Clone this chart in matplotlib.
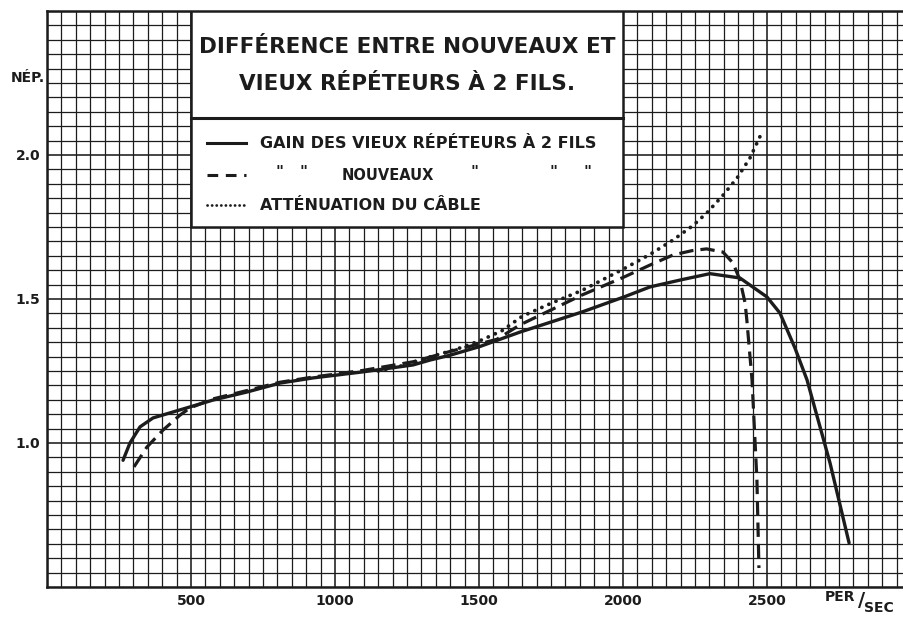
import matplotlib
matplotlib.use('Agg')
from matplotlib import pyplot as plt
from matplotlib.patches import Rectangle
from matplotlib.ticker import MultipleLocator

# gain of the old 2-wire repeaters (solid)
old_freq = [264, 288, 323, 368, 462, 576, 694, 809, 924, 1097, 1271, 1330, 1400, 1503,
            1642, 1750, 1858, 2003, 2094, 2208, 2302, 2406, 2500, 2545, 2597, 2639,
            2719, 2785]
old_gain = [0.94, 1.0, 1.056, 1.087, 1.115, 1.149, 1.177, 1.208, 1.226, 1.247, 1.271,
            1.288, 1.305, 1.335, 1.385, 1.42, 1.455, 1.507, 1.542, 1.568, 1.588, 1.573,
            1.507, 1.451, 1.33, 1.219, 0.93, 0.653]

# gain of the new repeaters (dashed)
new_freq = [302, 347, 403, 462, 497, 576, 694, 809, 924, 1097, 1271, 1400, 1562, 1642,
            1750, 1858, 2003, 2094, 2174, 2240, 2290, 2347, 2382, 2406, 2424, 2430,
            2448, 2465, 2472]
new_gain = [0.917, 0.986, 1.045, 1.097, 1.122, 1.153, 1.182, 1.211, 1.229, 1.252, 1.282,
            1.318, 1.36, 1.41, 1.462, 1.514, 1.576, 1.618, 1.653, 1.668, 1.674, 1.663,
            1.625, 1.566, 1.486, 1.427, 1.219, 0.872, 0.566]

# cable attenuation (dotted)
cable_freq = [1150, 1250, 1330, 1420, 1503, 1580, 1650, 1750, 1858, 2003, 2094, 2174,
              2243, 2292, 2347, 2396, 2441, 2476]
cable_att = [1.25, 1.272, 1.299, 1.325, 1.355, 1.39, 1.44, 1.485, 1.53, 1.605, 1.655,
             1.705, 1.755, 1.8, 1.86, 1.92, 1.99, 2.065]

x_ticks = [500, 1000, 1500, 2000, 2500]
y_ticks = [1.0, 1.5, 2.0]

title_lines = ["DIFFÉRENCE ENTRE NOUVEAUX ET", "VIEUX RÉPÉTEURS À 2 FILS."]
legend_old = "GAIN DES VIEUX RÉPÉTEURS À 2 FILS"
legend_new = "NOUVEAUX"
legend_cable = "ATTÉNUATION DU CÂBLE"

ink = '#1c1c1c'
plt.rcParams['font.family'] = ['DejaVu Sans']

fig = plt.figure(figsize=(9.04, 6.17), dpi=100)
ax = fig.add_axes([47 / 904, 30 / 617, 864 / 904, 576 / 617])
ax.set_xlim(0, 3000)
ax.set_ylim(0.5, 2.5)

# graph paper
ax.xaxis.set_minor_locator(MultipleLocator(50))
ax.yaxis.set_minor_locator(MultipleLocator(0.05))
ax.set_xticks(x_ticks)
ax.set_yticks(y_ticks)
ax.set_xticklabels([str(t) for t in x_ticks], fontweight='bold', fontsize=10, color=ink)
ax.set_yticklabels(['%.1f' % t for t in y_ticks], fontweight='bold', fontsize=10, color=ink)
ax.tick_params(which='both', length=0)
ax.tick_params(axis='x', pad=5)
ax.tick_params(axis='y', pad=5)
ax.grid(which='minor', color=ink, linewidth=0.9)
ax.grid(which='major', color=ink, linewidth=1.15)
ax.set_axisbelow(True)
for side in ['left', 'bottom', 'top']:
    ax.spines[side].set_linewidth(1.8)
    ax.spines[side].set_color(ink)
ax.spines['right'].set_visible(False)

# curves
ax.plot(old_freq, old_gain, color=ink, linewidth=2.4, solid_capstyle='round', zorder=3)
ax.plot(new_freq, new_gain, color=ink, linewidth=2.3, linestyle=(0, (4.5, 2.2)), zorder=3)
ax.plot(cable_freq, cable_att, color=ink, linewidth=2.7, linestyle=(0, (0.05, 2.0)),
        dash_capstyle='round', zorder=3)

# title / legend box
ax.add_patch(Rectangle((500, 1.75), 1500, 0.75, facecolor='white', edgecolor=ink,
                       linewidth=1.8, zorder=4))
ax.plot([500, 2000], [2.13, 2.13], color=ink, linewidth=2.2, zorder=5)
ax.text(1250, 2.375, title_lines[0], ha='center', va='center', fontsize=15.5,
        fontweight='bold', color=ink, zorder=6)
ax.text(1250, 2.245, title_lines[1], ha='center', va='center', fontsize=15.5,
        fontweight='bold', color=ink, zorder=6)

ax.plot([555, 690], [2.04, 2.04], color=ink, linewidth=2.2, zorder=5)
ax.text(740, 2.04, legend_old, ha='left', va='center', fontsize=11.5,
        fontweight='bold', color=ink, zorder=6)
ax.plot([555, 690], [1.93, 1.93], color=ink, linewidth=2.2, linestyle=(0, (3.5, 2.5)), zorder=5)
for qx in [809, 889, 1486, 1757, 1878]:
    ax.text(qx, 1.94, '"', ha='center', va='center', fontsize=11, fontweight='bold',
            color=ink, zorder=6)
ax.text(1184, 1.93, legend_new, ha='center', va='center', fontsize=10.5,
        fontweight='bold', color=ink, zorder=6)
ax.plot([555, 690], [1.825, 1.825], color=ink, linewidth=2.0, linestyle=(0, (0.05, 1.6)),
        dash_capstyle='round', zorder=5)
ax.text(740, 1.825, legend_cable, ha='left', va='center', fontsize=11.5,
        fontweight='bold', color=ink, zorder=6)

# axis labels
fig.text(28 / 904, 1 - 78 / 617, "NÉP.", ha='center', va='center', fontsize=10,
         fontweight='bold', color=ink)
fig.text(840 / 904, 1 - 597 / 617, "PER", ha='center', va='center', fontsize=10,
         fontweight='bold', color=ink)
fig.text(862 / 904, 1 - 601 / 617, "/", ha='center', va='center', fontsize=14,
         fontweight='bold', color=ink)
fig.text(879 / 904, 1 - 608 / 617, "SEC", ha='center', va='center', fontsize=10,
         fontweight='bold', color=ink)

fig.savefig('out.png', dpi=100, facecolor='white')
